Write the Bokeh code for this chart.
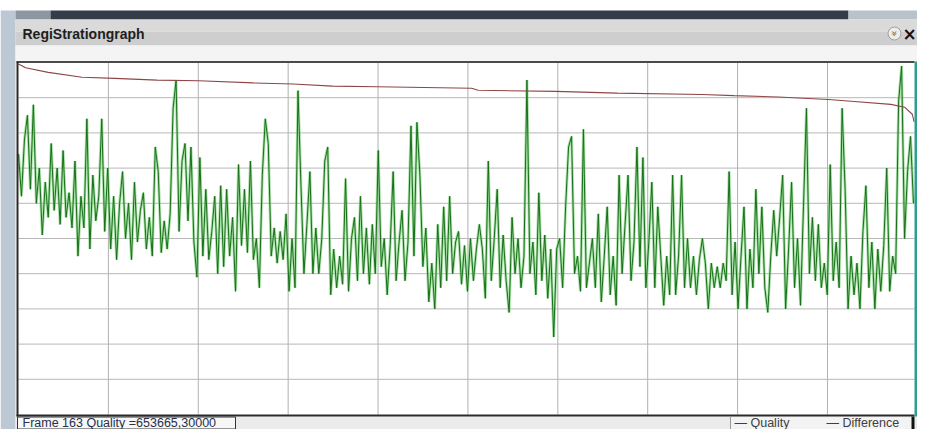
from math import pi
from bokeh.plotting import figure
from bokeh.models import Range1d
from bokeh.embed import file_html
from bokeh.resources import INLINE
from bokeh.core.properties import value

# ---------------- data ----------------
title_text = "RegiStrationgraph"
status_text = "Frame 163 Quality =653665,30000"
legend_labels = ["\u2014 Quality", "\u2014 Difference"]

# green trace, one value every 5 frames
quality = [
    74, 62, 78, 85, 64, 88, 60, 70, 51, 66,
    56, 77, 58, 70, 54, 75, 56, 63, 53, 72,
    45, 62, 53, 84, 47, 68, 55, 62, 84, 52,
    70, 47, 62, 44, 60, 69, 50, 60, 44, 66,
    49, 58, 63, 47, 56, 45, 76, 69, 46, 55,
    47, 57, 87, 95, 52, 72, 77, 55, 76, 49,
    39, 73, 45, 64, 44, 52, 62, 40, 65, 42,
    64, 45, 56, 35, 71, 48, 64, 46, 72, 44,
    50, 36, 68, 84, 77, 45, 53, 43, 52, 44,
    57, 35, 50, 36, 92, 65, 40, 54, 69, 40,
    53, 40, 50, 72, 76, 34, 47, 36, 45, 37,
    67, 35, 50, 56, 38, 62, 40, 53, 37, 54,
    40, 75, 42, 50, 34, 48, 69, 38, 49, 58,
    38, 49, 82, 45, 83, 68, 42, 53, 32, 43,
    30, 54, 36, 59, 38, 62, 40, 49, 52, 37,
    48, 35, 50, 38, 47, 54, 47, 33, 72, 38,
    50, 64, 36, 51, 38, 29, 56, 40, 50, 36,
    45, 95, 40, 49, 34, 63, 38, 51, 33, 47,
    22, 47, 50, 36, 59, 76, 79, 40, 45, 35,
    81, 36, 43, 50, 36, 57, 32, 45, 59, 34,
    45, 31, 68, 40, 54, 68, 38, 49, 76, 42,
    73, 36, 49, 66, 36, 59, 45, 31, 45, 34,
    68, 34, 45, 68, 36, 50, 36, 45, 34, 44,
    50, 43, 30, 43, 36, 42, 36, 43, 38, 69,
    34, 49, 30, 45, 59, 30, 47, 36, 64, 40,
    59, 36, 29, 45, 58, 45, 56, 68, 30, 47,
    66, 36, 50, 31, 59, 87, 40, 56, 38, 54,
    36, 43, 34, 71, 38, 49, 36, 87, 64, 30,
    45, 34, 43, 30, 52, 65, 36, 49, 30, 47,
    35, 48, 70, 35, 45, 40, 89, 99, 50, 69,
    79, 60,
]
frame_step = 5
quality_frames = [i * frame_step for i in range(len(quality))]

# red trace
difference_frames = [0, 12, 50, 107, 162, 233, 303, 395, 462, 528, 603, 762,
                     773, 903, 1007, 1150, 1203, 1278, 1362, 1400, 1467, 1490,
                     1503, 1506]
difference = [99.6, 98.5, 97.2, 95.8, 95.5, 95.0, 94.8, 94.2, 93.9, 93.3, 93.1,
              92.7, 92.1, 91.8, 91.3, 90.9, 90.6, 90.2, 89.5, 89.0, 88.1, 87.3,
              85.3, 83.1]

x_start, x_end = 0, 1506.7
y_start, y_end = 0, 100
x_grid = [151.15 * k for k in range(1, 10)]
y_grid = [10 * k for k in range(1, 10)]

# ---------------- layout ----------------
W, H = 917, 429
PL, PR, PT, PB = 18, 914, 62, 414          # plot region inside the canvas (px)
sx = (PR - PL) / (x_end - x_start)
sy = (PB - PT) / (y_end - y_start)
x_range = Range1d(x_start - PL / sx, x_end + (W - PR) / sx)
y_range = Range1d(y_start - (H - PB) / sy, y_end + PT / sy)

p = figure(width=W, height=H, x_range=x_range, y_range=y_range,
           output_backend="svg", toolbar_location=None,
           x_axis_location=None, y_axis_location=None,
           min_border_left=0, min_border_right=0, min_border_top=0, min_border_bottom=0)
p.grid.visible = False
p.outline_line_color = None
p.background_fill_color = "white"
p.border_fill_color = "white"
p.extra_x_ranges = {"px": Range1d(0, W)}
p.extra_y_ranges = {"px": Range1d(H, 0)}

PX = dict(x_range_name="px", y_range_name="px")


def box(l, t, r, b, color, line=None, lw=1):
    p.quad(left=l, right=r, top=t, bottom=b, fill_color=color,
           line_color=line, line_width=lw, **PX)


FONT = value("Liberation Sans")

# window chrome
box(0, 10, 15, 429, "#bcc8d4")
box(15, 10, 50, 19, "#8d97a2")
box(50, 10, 848, 19, "#343b49")
box(848, 10, 917, 19, "#b9c1c9")
box(15, 19, 917, 31, "#dadada")
box(15, 31, 917, 45, "#cecece")
box(15, 45, 917, 61, "#f4f4f4")
box(15, 416, 917, 429, "#ebebeb")
box(730, 416, 912, 429, "#f3f3f3")
box(17, 416.5, 235, 428.5, "#f7f7f7", line="#333333")

p.text(x=[22], y=[33], text=[title_text], text_font=FONT, text_font_style="bold",
       text_font_size="14px", text_color="#1e1e1e", text_baseline="middle", **PX)
p.scatter(x=[894], y=[33], size=13, marker="circle", fill_color="#ececec",
          line_color="#a0a0a0", **PX)
p.text(x=[894], y=[33], text=["\u00bb"], angle=-pi / 2, text_font=value("DejaVu Sans"),
       text_font_size="10px", text_color="#606060", text_align="center",
       text_baseline="middle", **PX)
p.text(x=[909], y=[33], text=["\u00d7"], text_font=value("DejaVu Sans"),
       text_font_style="bold", text_font_size="17px", text_color="#111111",
       text_align="center", text_baseline="middle", **PX)

# grid
p.segment(x0=x_grid, y0=[y_start] * len(x_grid), x1=x_grid, y1=[y_end] * len(x_grid),
          line_color="#b0b0b0", line_width=1)
p.segment(x0=[x_start] * len(y_grid), y0=y_grid, x1=[x_end] * len(y_grid), y1=y_grid,
          line_color="#b8b8b8", line_width=1)

# data
p.line(quality_frames, quality, line_color="#7acf7a", line_width=2.8, line_alpha=0.65)
p.line(quality_frames, quality, line_color="#176f17", line_width=1)
p.line(difference_frames, difference, line_color="#8e4646", line_width=1.1)

# plot borders
p.segment(x0=[16], y0=[61.5], x1=[914], y1=[61.5], line_color="#4a4a4a", line_width=2, **PX)
p.segment(x0=[17], y0=[61], x1=[17], y1=[416], line_color="#2a2a2a", line_width=2, **PX)
p.segment(x0=[16], y0=[415], x1=[914], y1=[415], line_color="#2a2a2a", line_width=2, **PX)
box(914, 61, 917, 416, "#2f9d8f")
p.segment(x0=[730], y0=[416], x1=[730], y1=[429], line_color="#9a9a9a", line_width=1, **PX)
box(911, 416, 914, 429, "#111111")

# status bar texts
p.text(x=[22], y=[422.5], text=[status_text], text_font=FONT, text_font_size="12.5px",
       text_color="#2a2f4a", text_baseline="middle", **PX)
p.text(x=[734, 826], y=[422.5, 422.5], text=legend_labels, text_font=FONT,
       text_font_size="12.5px", text_color="#404040", text_baseline="middle", **PX)

open("out.html", "w").write(file_html(p, INLINE))
